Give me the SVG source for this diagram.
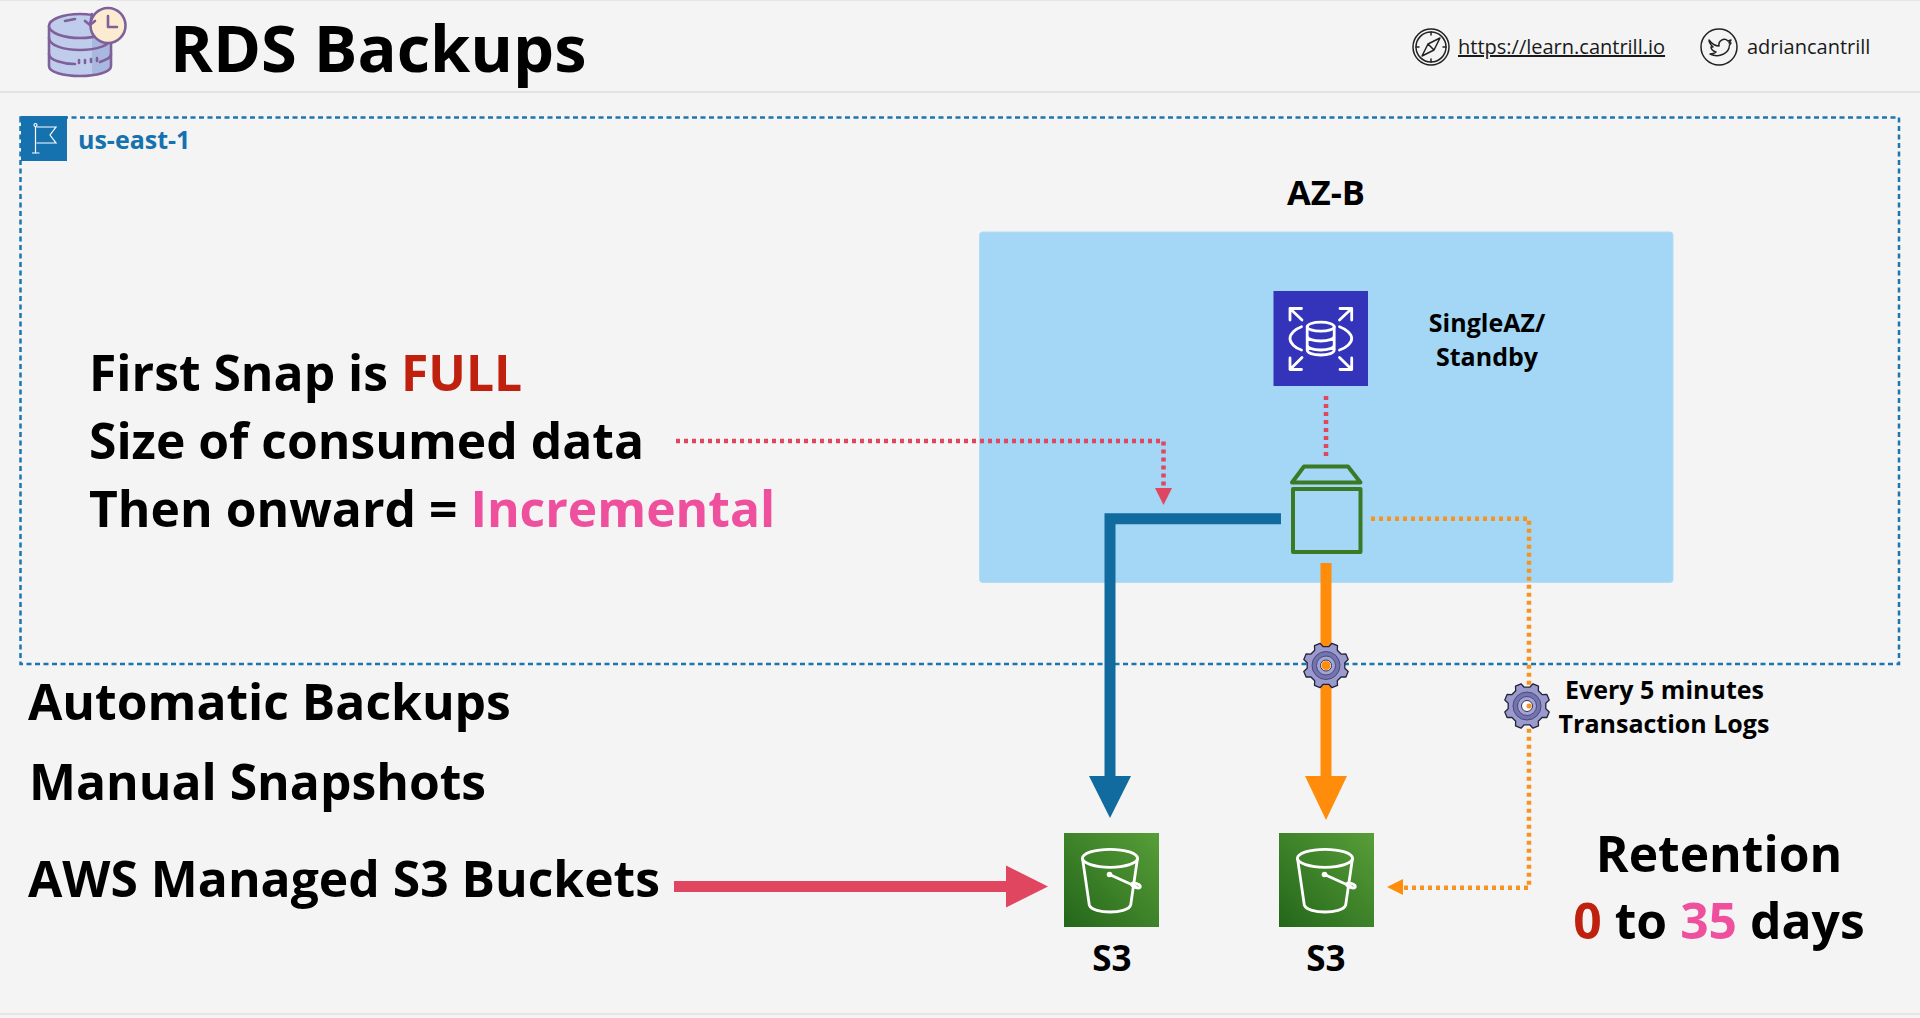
<svg xmlns="http://www.w3.org/2000/svg" width="1920" height="1018" viewBox="0 0 1920 1018">
<style>
text{font-family:"Open Sans","Noto Sans","Liberation Sans",sans-serif;font-weight:700;fill:#000}
.big{font-size:49.800px}
.mid{font-size:25px}
.red{fill:#C0210F}
.pink{fill:#EE509E}
.reg{font-weight:400;font-size:20px;fill:#1a1a1a}
.ic{fill:none;stroke:#fff;stroke-width:2.800;stroke-linecap:round;stroke-linejoin:round}
.dk{fill:none;stroke:#222;stroke-width:1.500;stroke-linejoin:round;stroke-linecap:round}
.pu{stroke:#80609A;stroke-width:2.600;stroke-linecap:round;stroke-linejoin:round}
.dotr{fill:none;stroke:#E0465F;stroke-width:4.500;stroke-dasharray:4 4}
.doto{fill:none;stroke:#F7931E;stroke-width:4.500;stroke-dasharray:4 4}
.thick{fill:none;stroke-width:11}
</style>
<defs>
<linearGradient id="s3g" x1="0" y1="1" x2="1" y2="0"><stop offset="0" stop-color="#24661A"/><stop offset="1" stop-color="#589E38"/></linearGradient>
<linearGradient id="dbg" x1="0" y1="0" x2="1" y2="0"><stop offset="0" stop-color="#BFCCEB"/><stop offset="0.7" stop-color="#BFCCEB"/><stop offset="0.7" stop-color="#A9B8DE"/><stop offset="1" stop-color="#A9B8DE"/></linearGradient>
<symbol id="bucket" width="95" height="95" viewBox="0 0 95 95" overflow="visible">
<rect width="95" height="94" fill="url(#s3g)"/>
<g class="ic">
<ellipse cx="46" cy="25.300" rx="27.500" ry="9"/>
<path d="M18.500 25.300L25.300 72C27 77 37 79 46 79S65 77 66.700 72L73.500 25.300"/>
<path d="M45.500 41.500L72 53.500"/>
<ellipse cx="72" cy="52.500" rx="4.500" ry="2" transform="rotate(20 72 52.500)"/>
</g>
<circle cx="45.500" cy="41.500" r="2.800" fill="#fff"/>
</symbol>
<symbol id="gear" width="48" height="48" viewBox="-24 -24 48 48">
<path fill="#9A9ACC" stroke="#23233C" stroke-width="1.300" stroke-linejoin="round" d="M2.800-18.800L5.950-22.200L11.500-19.900L11.300-15.300L15.300-11.300L19.900-11.500L22.200-5.950L18.800-2.800V2.800L22.200 5.950L19.900 11.500L15.300 11.300L11.300 15.300L11.500 19.900L5.950 22.200L2.800 18.800H-2.800L-5.950 22.200L-11.500 19.900L-11.300 15.300L-15.300 11.300L-19.900 11.500L-22.200 5.950L-18.800 2.800V-2.800L-22.200-5.950L-19.900-11.500L-15.300-11.300L-11.300-15.300L-11.500-19.900L-5.950-22.200L-2.800-18.800Z"/>
<circle r="14" fill="#7373AE" stroke="#4A4A80" stroke-width="1"/>
<circle r="9.500" fill="#A4A4D2" stroke="#4A4A80" stroke-width="1"/>
<circle r="5.500" fill="#fff" stroke="#33335A" stroke-width="1"/>
</symbol>
</defs>
<rect id="background" width="1920" height="1018" fill="#F4F4F4"/>
<path d="M0 92H1920" stroke="#DCDCDC" stroke-width="1.500"/>
<path d="M0 1014H1920" stroke="#E2E2E2" stroke-width="1.500"/>
<path d="M0 .5H1920" stroke="#E6E6E6"/>

<g id="header-icon">
<path d="M49 26V66C49 72 63 76 80 76S111 72 111 66V26Z" fill="url(#dbg)" class="pu"/>
<ellipse cx="80" cy="26" rx="31" ry="12" fill="#BFCCEB" class="pu"/>
<path class="pu" fill="none" d="M49 38C49 45 63 50 80 50S111 45 111 38M49 54C49 60 63 64 75 64M111 54C111 58 106 60 100 62"/>
<path class="pu" fill="none" d="M65 21L75 19M79 63V60M85 63V60M91 62V59M97 61V58"/>
<circle cx="108" cy="25.500" r="17.500" fill="#FBEBD0" class="pu"/>
<path class="pu" fill="none" d="M108 16V27H117M92 14L90 25M85 21L90 25L95 21"/>
</g>
<g id="title"><text x="170" y="72" font-size="65">RDS Backups</text></g>
<g id="link-web">
<g class="dk"><circle cx="1431" cy="47" r="18"/><circle cx="1431" cy="47" r="15"/><path d="M1440 38L1434 50L1422 56L1428 44ZM1428 44L1434 50M1431 32V35M1431 59V62M1416 47H1419M1443 47H1446"/></g>
<text class="reg" x="1458" y="54" text-decoration="underline">https://learn.cantrill.io</text>
</g>
<g id="link-twitter">
<circle cx="1719" cy="47" r="18" class="dk"/>
<path class="dk" d="M1709 40C1712 44 1716 46 1719 46C1718 41 1724 37 1728 41L1731 40L1729 43L1731 43C1729 45 1729 46 1729 48C1727 54 1718 58 1710 54C1713 54 1715 53 1716 52C1713 51 1711 49 1711 47L1713 47C1711 45 1709 43 1709 40Z"/>
<text class="reg" x="1747" y="54">adriancantrill</text>
</g>

<g id="region-us-east-1">
<rect x="20.500" y="117.500" width="1878.500" height="546.500" fill="none" stroke="#1B75AE" stroke-width="2.500" stroke-dasharray="5 3.500"/>
<rect x="21" y="116" width="46" height="45" fill="#1572AE"/>
<g fill="none" stroke="#fff" stroke-width="1.200"><path d="M35.500 126V153M32 153H39.500M36.500 127H56L50 135L56 143H36.500"/><circle cx="35.500" cy="125" r="1.500"/></g>
<text x="78" y="149" font-size="25" style="fill:#1572AE">us-east-1</text>
</g>
<g id="az-b">
<rect x="979.500" y="232" width="693.500" height="350.500" rx="3" fill="#A3D7F5" stroke="#B4DDF3"/>
<text x="1326" y="205" font-size="34.500" text-anchor="middle">AZ-B</text>
</g>

<g id="connectors">
<path class="dotr" d="M676 441H1163.500V488"/>
<path fill="#E0465F" d="M1155 488H1172L1163.500 505Z"/>
<path class="dotr" d="M1326 396V456"/>
<path class="thick" stroke="#126B9E" d="M1281 518.700H1110V776"/>
<path fill="#126B9E" d="M1089 776H1131L1110 818Z"/>
<path class="thick" stroke="#FF8C0A" d="M1326 563V776"/>
<path fill="#FF8C0A" d="M1305 776H1347L1326 820Z"/>
<path class="doto" d="M1371 518.700H1529V887.700H1403"/>
<path fill="#FF8C0A" d="M1403 879V895L1387 887Z"/>
<path class="thick" stroke="#E0465F" d="M674 886.500H1006"/>
<path fill="#E0465F" d="M1006 865.500V907.500L1048 886.500Z"/>
</g>

<g id="rds">
<rect x="1273.500" y="291" width="94.500" height="95" fill="#3334B9"/>
<g class="ic">
<ellipse cx="1320.700" cy="326.700" rx="13.500" ry="4.500"/>
<path d="M1307.200 326.700V350C1307.200 353 1313 355 1320.700 355S1334.200 353 1334.200 350V326.700M1307.200 336C1307.200 339 1313 341 1320.700 341S1334.200 339 1334.200 336M1307.200 345C1307.200 348 1313 350 1320.700 350S1334.200 348 1334.200 345"/>
<path d="M1301.500 326.700C1295 329 1290 334 1290 338.500S1295 348 1301.500 350M1339.500 326.700C1346 329 1351.700 334 1351.700 338.500S1346 348 1339.500 350"/>
<path d="M1302 320L1290 308.500M1290 320V308.500H1301.500M1339.500 320L1351.700 308.500M1351.700 320V308.500H1340M1302 357.500L1290 369.500M1290 358V369.500H1301.500M1339.500 357.500L1351.700 369.500M1351.700 358V369.500H1340"/>
</g>
</g>
<g id="rds-label"><text x="1487" y="332" class="mid" text-anchor="middle">SingleAZ/</text><text x="1487" y="366" class="mid" text-anchor="middle">Standby</text></g>
<g id="instance" fill="none" stroke="#3A7A25" stroke-width="4" stroke-linejoin="round">
<path d="M1292 482.500L1304 466.500H1348L1360.500 482.500Z"/>
<rect x="1293" y="489" width="67.500" height="63"/>
</g>

<g id="gear-1"><use href="#gear" x="1302" y="641.500"/><circle cx="1326" cy="665.500" r="4.500" fill="#FF8C0A"/></g>
<g id="gear-2"><use href="#gear" x="1503" y="682"/><circle cx="1529" cy="706" r="2.500" fill="#F7931E"/></g>
<g id="log-label"><text x="1664.500" y="699" class="mid" text-anchor="middle">Every 5 minutes</text><text x="1664" y="733" class="mid" text-anchor="middle">Transaction Logs</text></g>

<g id="s3-a"><use href="#bucket" x="1064" y="833"/><text x="1112" y="971" font-size="35" text-anchor="middle">S3</text></g>
<g id="s3-b"><use href="#bucket" x="1279" y="833"/><text x="1326" y="971" font-size="35" text-anchor="middle">S3</text></g>

<g id="notes">
<text class="big" x="89" y="391">First Snap is <tspan class="red">FULL</tspan></text>
<text class="big" x="89" y="459">Size of consumed data</text>
<text class="big" x="89" y="527">Then onward = <tspan class="pink">Incremental</tspan></text>
<text class="big" x="28" y="720">Automatic Backups</text>
<text class="big" x="29" y="800">Manual Snapshots</text>
<text class="big" x="28" y="897">AWS Managed S3 Buckets</text>
</g>
<g id="retention">
<text class="big" x="1719" y="872" text-anchor="middle">Retention</text>
<text class="big" x="1719" y="939" text-anchor="middle"><tspan class="red">0</tspan> to <tspan class="pink">35</tspan> days</text>
</g>
</svg>
